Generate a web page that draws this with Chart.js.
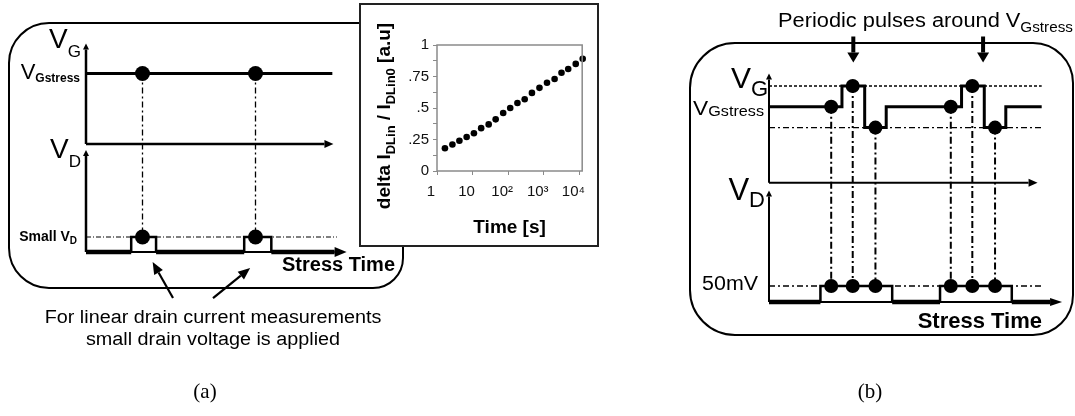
<!DOCTYPE html>
<html lang="en">
<head>
<meta charset="UTF-8" />
<title>Gate stress measurement schemes</title>
<style>
  html, body { margin: 0; padding: 0; background: #fff; overflow: hidden; }
  body { position: relative; width: 1075px; height: 416px; }
  canvas { position: absolute; top: 0; }
  #panelA { left: 0; }
  #inset { left: 359px; top: 3px; }
  #panelB { left: 640px; }
</style>
</head>
<body>
<canvas id="panelA" width="420" height="416"></canvas>
<canvas id="inset" width="240" height="244"></canvas>
<canvas id="panelB" width="435" height="416"></canvas>
<script src="https://cdn.jsdelivr.net/npm/chart.js@4.4.1/dist/chart.umd.min.js"></script>
<script>
const SANS = '"Liberation Sans", Arial, sans-serif';
const SERIF = '"Liberation Serif", "Times New Roman", serif';

// ---- inset: relative linear drain current shift vs stress time ----
const insetTimes = [1.67, 2.71, 4.26, 6.81, 10.9, 17.4, 28.3, 44.5, 72.4, 114,
                    182, 291, 465, 757, 1231, 2014, 3147, 4861, 7907, 12400];
const insetShift = [0.18, 0.21, 0.24, 0.27, 0.30, 0.34, 0.37, 0.41, 0.46, 0.50,
                    0.54, 0.57, 0.62, 0.66, 0.70, 0.73, 0.78, 0.81, 0.85, 0.89];
const insetTickValues = [1, 10, 100, 1000, 10000];
const insetTickLabels = ['1', '10', '10²', '10³', '10⁴'];
const insetYLabels = { 0: '0', 0.25: '.25', 0.5: '.5', 0.75: '.75', 1: '1' };

// ---- panel (a): constant gate stress, short small-VD reads ----
// levels in arbitrary units, times in arbitrary stress-time units
const aLevels = { vdOff: 0, vdSmall: 1, vdAxisTop: 6.4, vgAxis: 7.2, vgStress: 11.9, vgAxisTop: 13.5 };
const aReadTimes = [2.5, 7.5];
const aPulses = [[2.0, 3.1], [7.0, 8.2]];
const aEnds = { vgAxis: 10.55, stressLine: 10.9, vdAxis: 11.0, guide: 11.1 };
const aCalloutTails = [[3.85, -3.07], [5.62, -3.07]];
const aCalloutHeads = [[3.21, -1.37], [6.85, -1.57]];

// ---- panel (b): periodic pulses around VGstress ----
const bLevels = { vdOff: 0, vd50m: 1, vdAxisTop: 6.6, vgAxis: 7.45, vgLow: 10.9, vgStress: 12.2, vgHigh: 13.5, vgAxisTop: 13.9 };
const bStressReads = [5.2, 15.2];
const bHighReads = [7.0, 17.0];
const bLowReads = [8.9, 18.9];
const bGateEdges = [[6.1, 8.0, 9.8], [16.1, 18.0, 19.8]]; // up, down, back to stress
const bDrainPulses = [[4.3, 10.3], [14.3, 20.3]];
const bArrowTimes = [7.05, 17.9];
const bArrowSpan = [16.6, 15.6];
const bEnds = { vgAxis: 21.7, gate: 22.8, vdAxis: 23.5, guide: 22.8 };

Chart.defaults.font.family = SANS;

function line(points, width, extra) {
  return Object.assign({
    data: points.map(([x, y]) => ({ x, y })),
    showLine: true, borderColor: '#000', borderWidth: width,
    pointRadius: 0, pointHoverRadius: 0, tension: 0, fill: false, clip: false
  }, extra);
}

function dots(points, r) {
  return {
    data: points.map(([x, y]) => ({ x, y })),
    showLine: false, pointRadius: r, pointHoverRadius: r,
    pointBackgroundColor: '#000', pointBorderWidth: 0, clip: false
  };
}

function roundedBox(ctx, x, y, w, h, r) {
  ctx.beginPath();
  ctx.moveTo(x + r[0], y);
  ctx.lineTo(x + w - r[1], y);
  ctx.arcTo(x + w, y, x + w, y + r[1], r[1]);
  ctx.lineTo(x + w, y + h - r[2]);
  ctx.arcTo(x + w, y + h, x + w - r[2], y + h, r[2]);
  ctx.lineTo(x + r[3], y + h);
  ctx.arcTo(x, y + h, x, y + h - r[3], r[3]);
  ctx.lineTo(x, y + r[0]);
  ctx.arcTo(x, y, x + r[0], y, r[0]);
  ctx.closePath();
}

// text made of runs: [text, size, dy, weight]
function drawParts(ctx, label) {
  const family = label.family || SANS;
  const fonts = label.parts.map(p => `${p[3] || 'normal'} ${p[1]}px ${family}`);
  const widths = label.parts.map((p, i) => { ctx.font = fonts[i]; return ctx.measureText(p[0]).width; });
  const total = widths.reduce((a, b) => a + b, 0);
  let x = label.align === 'right' ? -total : label.align === 'center' ? -total / 2 : 0;
  ctx.save();
  ctx.translate(label.x, label.y);
  if (label.rotate) ctx.rotate(label.rotate);
  ctx.scale(label.sx || 1, 1);
  ctx.fillStyle = label.color || '#000';
  ctx.textAlign = 'left';
  ctx.textBaseline = 'alphabetic';
  label.parts.forEach((p, i) => {
    ctx.font = fonts[i];
    ctx.fillText(p[0], x, p[2] || 0);
    x += widths[i];
  });
  ctx.restore();
}

const sketchPlugin = {
  id: 'sketch',
  beforeDatasetsDraw(chart, args, opts) {
    const ctx = chart.ctx;
    if (opts.frame) {
      const f = opts.frame;
      ctx.save();
      roundedBox(ctx, f.x, f.y, f.w, f.h, f.r);
      ctx.lineWidth = 2;
      ctx.strokeStyle = '#000';
      ctx.stroke();
      ctx.restore();
    }
  },
  afterDatasetsDraw(chart, args, opts) {
    const ctx = chart.ctx;
    chart.data.datasets.forEach((ds, i) => {
      if (!ds.head) return;
      const pts = chart.getDatasetMeta(i).data;
      const a = pts[pts.length - 2], b = pts[pts.length - 1];
      ctx.save();
      ctx.translate(b.x, b.y);
      ctx.rotate(Math.atan2(b.y - a.y, b.x - a.x));
      ctx.beginPath();
      ctx.moveTo(ds.head[0], 0);
      ctx.lineTo(0, -ds.head[1]);
      ctx.lineTo(0, ds.head[1]);
      ctx.closePath();
      ctx.fillStyle = '#000';
      ctx.fill();
      ctx.restore();
    });
    (opts.labels || []).forEach(l => drawParts(ctx, l));
  }
};

function panelOptions(xMax, yMax, padding, sketch) {
  return {
    responsive: false, animation: false, events: [], devicePixelRatio: 1,
    layout: { padding },
    scales: {
      x: { type: 'linear', min: 0, max: xMax, display: false },
      y: { type: 'linear', min: 0, max: yMax, display: false }
    },
    plugins: { legend: { display: false }, tooltip: { enabled: false }, sketch }
  };
}

// ---------- panel (a) ----------
const LA = aLevels;
const aOff = [0, ...aPulses.flat(), aEnds.vdAxis];
const aDatasets = [
  line([[0, LA.vgAxis], [0, LA.vgAxisTop]], 2.5, { head: [6, 3] }),
  line([[0, LA.vgAxis], [aEnds.vgAxis, LA.vgAxis]], 2.5, { head: [9, 4] }),
  line([[0, LA.vgStress], [aEnds.stressLine, LA.vgStress]], 3),
  line([[0, LA.vdOff], [0, LA.vdAxisTop]], 2.5, { head: [6, 3] }),
  line([[0, LA.vdOff], [aEnds.vdAxis, LA.vdOff]], 2, { head: [12, 5] }),
  line([[0, LA.vdSmall], [aEnds.guide, LA.vdSmall]], 1.2, { borderDash: [5, 2, 1, 2] })
];
for (let i = 0; i < aOff.length; i += 2) {
  aDatasets.push(line([[aOff[i], LA.vdOff], [aOff[i + 1], LA.vdOff]], 4.5));
}
aPulses.forEach(([s, e]) => {
  aDatasets.push(line([[s, LA.vdOff], [s, LA.vdSmall], [e, LA.vdSmall], [e, LA.vdOff]], 2.5));
});
aReadTimes.forEach(t => {
  aDatasets.push(line([[t, LA.vgStress], [t, LA.vdSmall]], 1.3, { borderDash: [6, 3, 2, 3] }));
});
aDatasets.push(dots([...aReadTimes.map(t => [t, LA.vgStress]), ...aReadTimes.map(t => [t, LA.vdSmall])], 7.5));
aCalloutTails.forEach((tail, i) => {
  aDatasets.push(line([tail, aCalloutHeads[i]], 2.2, { head: [12, 5] }));
});

new Chart(document.getElementById('panelA'), {
  type: 'scatter',
  data: { datasets: aDatasets },
  options: panelOptions(12, 14, { left: 86, right: 62.8, top: 42, bottom: 164 }, {
    frame: { x: 9, y: 23, w: 394, h: 265, r: [40, 30, 30, 40] },
    labels: [
      { x: 81, y: 48, align: 'right', parts: [['V', 28], ['G', 17, 9]] },
      { x: 80, y: 79, align: 'right', parts: [['V', 22], ['Gstress', 12, 3, 'bold']] },
      { x: 81, y: 158, align: 'right', parts: [['V', 28], ['D', 17, 9]] },
      { x: 77, y: 241, align: 'right', parts: [['Small V', 14, 0, 'bold'], ['D', 10, 3, 'bold']] },
      { x: 282, y: 271, align: 'left', parts: [['Stress Time', 20, 0, 'bold']] },
      { x: 213, y: 323, align: 'center', sx: 1.1, parts: [['For linear drain current measurements', 18]] },
      { x: 213, y: 345, align: 'center', sx: 1.1, parts: [['small drain voltage is applied', 18]] },
      { x: 205, y: 398, align: 'center', family: SERIF, parts: [['(a)', 21]] }
    ]
  }),
  plugins: [sketchPlugin]
});

// ---------- inset ----------
const insetPlugin = {
  id: 'insetFrame',
  beforeDraw(chart) {
    const ctx = chart.ctx;
    ctx.save();
    ctx.fillStyle = '#fff';
    ctx.fillRect(0, 0, chart.width, chart.height);
    ctx.lineWidth = 2;
    ctx.strokeStyle = '#222';
    ctx.strokeRect(1, 1, chart.width - 2, chart.height - 2);
    ctx.restore();
  },
  afterDraw(chart) {
    const ctx = chart.ctx, a = chart.chartArea;
    ctx.save();
    ctx.lineWidth = 1.5;
    ctx.strokeStyle = '#8a8a8a';
    ctx.strokeRect(a.left, a.top, a.right - a.left, a.bottom - a.top);
    ctx.restore();
    drawParts(ctx, { x: (a.left + a.right) / 2, y: 230, align: 'center', parts: [['Time [s]', 19, 0, 'bold']] });
    drawParts(ctx, {
      x: 31, y: 113, align: 'center', rotate: -Math.PI / 2,
      parts: [['delta I', 19, 0, 'bold'], ['DLin', 13, 5, 'bold'], [' / I', 19, 0, 'bold'],
              ['DLin0', 13, 5, 'bold'], [' [a.u]', 19, 0, 'bold']]
    });
  }
};

new Chart(document.getElementById('inset'), {
  type: 'scatter',
  data: {
    datasets: [{
      data: insetTimes.map((t, i) => ({ x: t, y: insetShift[i] })),
      pointRadius: 3.3, pointHoverRadius: 3.3, pointBackgroundColor: '#000',
      pointBorderWidth: 0, clip: false
    }]
  },
  options: {
    responsive: false, animation: false, events: [], devicePixelRatio: 1,
    layout: { padding: { left: 0, right: 2, top: 42, bottom: 0 } },
    scales: {
      x: {
        type: 'logarithmic', min: 1, max: 12000,
        afterBuildTicks: s => { s.ticks = insetTickValues.map(v => ({ value: v })); },
        afterFit: s => { s.height = 76; },
        ticks: {
          callback: v => insetTickLabels[insetTickValues.indexOf(v)] ?? '',
          autoSkip: false, maxRotation: 0, padding: 8, labelOffset: -6,
          color: '#111', font: { size: 15 }
        },
        grid: { display: true, drawOnChartArea: false, drawTicks: true, tickLength: 4, color: '#8a8a8a' },
        border: { display: false }
      },
      y: {
        type: 'linear', min: 0, max: 1,
        afterFit: s => { s.width = 78; },
        ticks: {
          stepSize: 0.125, autoSkip: false, padding: 4,
          callback: v => insetYLabels[v] ?? '',
          color: '#111', font: { size: 15 }
        },
        grid: { display: true, drawOnChartArea: false, drawTicks: true, tickLength: 4, color: '#8a8a8a' },
        border: { display: false }
      }
    },
    plugins: { legend: { display: false }, tooltip: { enabled: false } }
  },
  plugins: [insetPlugin]
});

// ---------- panel (b) ----------
const LB = bLevels;
const bGatePts = [[0, LB.vgStress]];
bGateEdges.forEach(([up, down, back]) => {
  bGatePts.push([up, LB.vgStress], [up, LB.vgHigh], [down, LB.vgHigh],
                [down, LB.vgLow], [back, LB.vgLow], [back, LB.vgStress]);
});
bGatePts.push([bEnds.gate, LB.vgStress]);
const bAllReads = [...bStressReads, ...bHighReads, ...bLowReads];
const bOff = [0, ...bDrainPulses.flat(), bEnds.vdAxis];

const bDatasets = [
  line([[0, LB.vgHigh], [bEnds.guide, LB.vgHigh]], 1.5, { borderDash: [3, 2] }),
  line([[0, LB.vgLow], [bEnds.guide, LB.vgLow]], 1.3, { borderDash: [6, 3, 2, 3] }),
  line([[0, LB.vd50m], [bEnds.guide, LB.vd50m]], 1.3, { borderDash: [6, 3, 2, 3] }),
  line([[0, LB.vgAxis], [0, LB.vgAxisTop]], 2, { head: [6, 3] }),
  line([[0, LB.vgAxis], [bEnds.vgAxis, LB.vgAxis]], 2, { head: [9, 4] }),
  line([[0, LB.vdOff], [0, LB.vdAxisTop]], 2, { head: [6, 3] }),
  line([[0, LB.vdOff], [bEnds.vdAxis, LB.vdOff]], 2, { head: [12, 4] }),
  line(bGatePts, 3)
];
for (let i = 0; i < bOff.length; i += 2) {
  bDatasets.push(line([[bOff[i], LB.vdOff], [bOff[i + 1], LB.vdOff]], 4.5));
}
bDrainPulses.forEach(([s, e]) => {
  bDatasets.push(line([[s, LB.vdOff], [s, LB.vd50m], [e, LB.vd50m], [e, LB.vdOff]], 2.5));
});
[[bStressReads, LB.vgStress], [bHighReads, LB.vgHigh], [bLowReads, LB.vgLow]].forEach(([times, lvl]) => {
  times.forEach(t => bDatasets.push(line([[t, lvl], [t, LB.vd50m]], 2, { borderDash: [7, 3, 2, 3] })));
});
bDatasets.push(dots([
  ...bStressReads.map(t => [t, LB.vgStress]),
  ...bHighReads.map(t => [t, LB.vgHigh]),
  ...bLowReads.map(t => [t, LB.vgLow]),
  ...bAllReads.map(t => [t, LB.vd50m])
], 7));
bArrowTimes.forEach(t => {
  bDatasets.push(line([[t, bArrowSpan[0]], [t, bArrowSpan[1]]], 4, { head: [10, 6] }));
});

new Chart(document.getElementById('panelB'), {
  type: 'scatter',
  data: { datasets: bDatasets },
  options: panelOptions(25, 14, { left: 129, right: 1, top: 78, bottom: 114 }, {
    frame: { x: 50, y: 43, w: 383, h: 292, r: [45, 40, 40, 45] },
    labels: [
      { x: 138, y: 27, align: 'left', sx: 1.09, parts: [['Periodic pulses around V', 20], ['Gstress', 14, 5]] },
      { x: 128, y: 88, align: 'right', parts: [['V', 30], ['G', 22, 8]] },
      { x: 124, y: 115, align: 'right', sx: 1.08, parts: [['V', 21], ['Gstress', 15, 1]] },
      { x: 125, y: 200, align: 'right', parts: [['V', 31], ['D', 22, 7]] },
      { x: 118, y: 290, align: 'right', sx: 1.07, parts: [['50mV', 20]] },
      { x: 402, y: 328, align: 'right', parts: [['Stress Time', 22, 0, 'bold']] },
      { x: 230, y: 398, align: 'center', family: SERIF, parts: [['(b)', 21]] }
    ]
  }),
  plugins: [sketchPlugin]
});
</script>
</body>
</html>
